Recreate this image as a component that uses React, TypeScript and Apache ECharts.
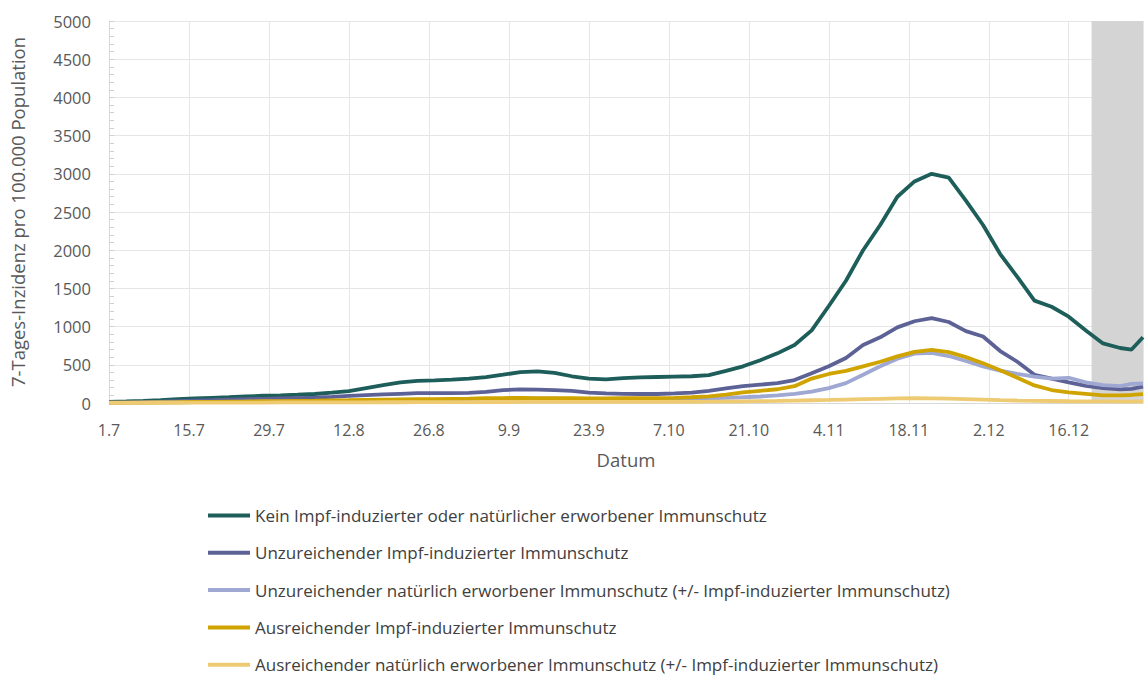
import React, { useEffect, useRef } from "react";
import * as echarts from "echarts";

// day index since 1.7
const DAYS = [0, 3, 6, 9, 12, 15, 18, 21, 24, 27, 30, 33, 36, 39, 42, 45, 48, 51, 54, 57, 60, 63, 66, 69, 72, 75, 78, 81, 84, 87, 90, 93, 96, 99, 102, 105, 108, 111, 114, 117, 120, 123, 126, 129, 132, 135, 138, 141, 144, 147, 150, 153, 156, 159, 162, 165, 168, 171, 174, 177, 179, 181];

const TICK_LABELS = ["1.7", "15.7", "29.7", "12.8", "26.8", "9.9", "23.9", "7.10", "21.10", "4.11", "18.11", "2.12", "16.12"];

const KEIN = [15, 20, 28, 38, 50, 60, 68, 75, 85, 95, 100, 108, 118, 135, 155, 195, 235, 270, 290, 295, 305, 320, 340, 370, 405, 415, 395, 350, 320, 310, 325, 335, 340, 345, 350, 365, 420, 480, 560, 650, 760, 950, 1270, 1600, 2000, 2330, 2700, 2900, 3000, 2950, 2650, 2330, 1950, 1650, 1340, 1260, 1130, 950, 780, 720, 700, 860];
const UNZ_IMPF = [5, 8, 12, 18, 25, 32, 38, 45, 50, 55, 60, 65, 70, 80, 92, 102, 112, 120, 128, 130, 130, 132, 145, 168, 178, 175, 168, 160, 135, 125, 120, 118, 118, 125, 135, 160, 190, 220, 240, 260, 300, 390, 480, 590, 760, 860, 990, 1070, 1110, 1060, 940, 870, 680, 540, 370, 320, 270, 225, 195, 180, 185, 215];
const UNZ_NAT = [3, 5, 6, 8, 10, 12, 14, 16, 18, 20, 22, 24, 26, 28, 30, 32, 35, 38, 40, 42, 44, 46, 50, 55, 58, 58, 56, 54, 52, 50, 50, 50, 52, 55, 58, 62, 68, 75, 85, 100, 120, 150, 195, 260, 370, 480, 580, 645, 655, 615, 550, 480, 425, 380, 345, 320, 330, 270, 235, 220, 250, 255];
const AUS_IMPF = [3, 4, 6, 8, 10, 13, 15, 18, 20, 23, 25, 28, 30, 33, 36, 40, 44, 47, 50, 52, 55, 58, 62, 65, 66, 65, 63, 62, 60, 60, 62, 63, 65, 68, 75, 88, 110, 140, 160, 180, 220, 320, 380, 420, 480, 540, 610, 670, 695, 665, 600, 520, 430, 330, 230, 170, 140, 120, 100, 100, 105, 115];
const AUS_NAT = [2, 2, 3, 3, 4, 4, 5, 5, 6, 6, 7, 7, 8, 8, 9, 9, 10, 10, 11, 11, 12, 12, 13, 13, 14, 14, 14, 14, 14, 14, 14, 15, 15, 15, 16, 17, 19, 22, 25, 28, 32, 36, 40, 45, 50, 55, 60, 62, 60, 56, 50, 44, 38, 33, 29, 26, 23, 21, 20, 19, 19, 20];

const SHADE_FROM = 172;
const SHADE_TO = 181;

const NAMES = [
  "Kein Impf-induzierter oder natürlicher erworbener Immunschutz",
  "Unzureichender Impf-induzierter Immunschutz",
  "Unzureichender natürlich erworbener Immunschutz (+/- Impf-induzierter Immunschutz)",
  "Ausreichender Impf-induzierter Immunschutz",
  "Ausreichender natürlich erworbener Immunschutz (+/- Impf-induzierter Immunschutz)",
];
const VALUES = [KEIN, UNZ_IMPF, UNZ_NAT, AUS_IMPF, AUS_NAT];
const COLORS = ["#1e5e5a", "#5d6296", "#9ea8d2", "#d0a400", "#eecb73"];

const FONT = "'Open Sans', sans-serif";

export default function App() {
  const ref = useRef<HTMLDivElement>(null);
  useEffect(() => {
    if (!ref.current) return;
    const chart = echarts.init(ref.current, undefined, { renderer: "svg" });
    const series: any[] = [
      {
        name: "shade",
        type: "line",
        data: [],
        silent: true,
        markArea: {
          silent: true,
          itemStyle: { color: "#d4d4d4" },
          data: [[{ xAxis: SHADE_FROM }, { xAxis: SHADE_TO }]],
        },
      },
    ];
    NAMES.forEach((n, i) => {
      series.push({
        name: n,
        type: "line",
        symbol: "none",
        showSymbol: false,
        z: 3,
        lineStyle: { color: COLORS[i], width: 3.8 },
        itemStyle: { color: COLORS[i] },
        data: DAYS.map((d, j) => [d, VALUES[i][j]]),
      });
    });
    chart.setOption({
      animation: false,
      backgroundColor: "#ffffff",
      textStyle: { fontFamily: FONT },
      grid: { left: 100, right: 4, top: 21, bottom: 274, containLabel: false },
      xAxis: {
        type: "value",
        min: 0,
        max: 181,
        interval: 14,
        name: "Datum",
        nameLocation: "middle",
        nameGap: 47,
        nameTextStyle: { fontSize: 18.5, color: "#595959", fontFamily: FONT },
        axisLine: { show: true, lineStyle: { color: "#d9d9d9" } },
        axisTick: { show: false },
        axisLabel: {
          margin: 19,
          fontSize: 16,
          color: "#595959",
          fontFamily: FONT,
          showMaxLabel: false,
          formatter: (v: number) => (v % 14 === 0 ? TICK_LABELS[v / 14] ?? "" : ""),
        },
        splitLine: { show: true, lineStyle: { color: "#e6e6e6", width: 1 } },
      },
      yAxis: {
        type: "value",
        min: 0,
        max: 5000,
        interval: 500,
        name: "7-Tages-Inzidenz pro 100.000 Population",
        nameLocation: "middle",
        nameRotate: 90,
        nameGap: 82,
        nameTextStyle: { fontSize: 18.5, color: "#595959", fontFamily: FONT },
        axisLine: { show: true, lineStyle: { color: "#d9d9d9" } },
        axisTick: { show: true, inside: true, length: 5, lineStyle: { color: "#d0d0d0" } },
        minorTick: { show: true, splitNumber: 5, length: 5, lineStyle: { color: "#d0d0d0" } },
        axisLabel: {
          margin: 18,
          fontSize: 16.5,
          color: "#595959",
          fontFamily: FONT,
          formatter: (v: number) => String(v),
        },
        splitLine: { show: true, lineStyle: { color: "#e6e6e6", width: 1 } },
      },
      legend: {
        data: NAMES,
        orient: "vertical",
        left: 203,
        top: 502,
        height: 220,
        icon: "rect",
        itemWidth: 42,
        itemHeight: 4,
        itemGap: 20.3,
        textStyle: { fontSize: 17, color: "#404040", fontFamily: FONT },
        selectedMode: false,
      },
      series,
    });
    return () => chart.dispose();
  }, []);
  return (
    <div
      ref={ref}
      style={{ position: "fixed", left: 0, top: 0, width: 1147, height: 677, background: "#fff" }}
    />
  );
}
